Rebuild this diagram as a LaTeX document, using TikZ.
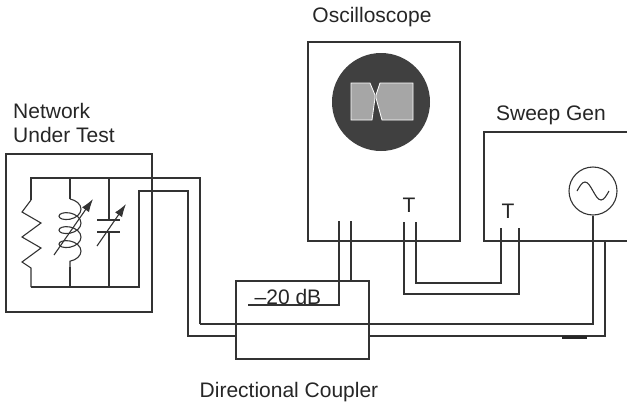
\documentclass[tikz,border=0pt]{standalone}
\usepackage{fontspec}
\setmainfont{Liberation Sans}
\usetikzlibrary{arrows.meta,decorations.pathmorphing}
\definecolor{wire}{HTML}{333333}
\definecolor{crt}{HTML}{404040}
\definecolor{trace}{HTML}{A6A6A6}
\begin{document}
\begin{tikzpicture}[x=1pt,y=-1pt,
  wirestyle/.style={draw=wire,line width=1.1pt},
  unit/.style={draw=wire,line width=1.1pt,fill=none},
  lbl/.style={font=\fontsize{21}{24}\selectfont,text=black!85,inner sep=0pt},
  tune/.style={draw=wire,line width=1.1pt,-{Latex[length=13pt,width=8.5pt]}}]
\useasboundingbox (0,0) rectangle (627,405);
\begin{scope}
\clip (0,0) rectangle (627,405);

% instrument housings
\draw[unit] (6,154) rectangle (152,312);
\draw[unit] (308,42) rectangle (460,241);
\draw[unit] (660,132) -- (484,132) -- (484,241) -- (660,241);
\draw[unit] (236,281) rectangle (369,359);

% CRT screen
\fill[crt] (381,102) circle (49);
\draw[white,line width=0.8pt,fill=trace]
  (351,83) -- (370,83) -- (375,95) -- (375,98) -- (372,120) -- (351,120) -- cycle;
\draw[white,line width=0.8pt,fill=trace]
  (413,83) -- (380,83) -- (376,95) -- (376,98) -- (382,120) -- (413,120) -- cycle;

% sweep source
\node[circle,draw=wire,line width=1.1pt,minimum size=48pt,inner sep=0pt] (src) at (593,191) {};
\draw[wirestyle] (577,191) sin (585,182) cos (593,191) sin (601,200) cos (609,191);

% tuned circuit inside the network
\coordinate (tl) at (31,178);
\coordinate (bl) at (31,287);
\draw[wirestyle] (200,324) -- (200,178) -- (tl) -- (31,200);
\draw[wirestyle] (31,200) -- (22,212) -- (41,223) -- (22,237) -- (41,248) -- (22,262) -- (31,268) -- (bl);
\draw[wirestyle] (bl) -- (139,287) -- (139,191) -- (188,191) -- (188,336) -- (236,336);
\draw[wirestyle] (70,178) -- (70,199);
\draw[wirestyle,decorate,decoration={coil,aspect=0.6,segment length=14pt,amplitude=11pt}] (70,199) -- (70,267);
\draw[wirestyle] (70,267) -- (70,287);
\draw[tune] (54,255) -- (93,199);
\draw[wirestyle] (109,178) -- (109,220);
\draw[wirestyle] (97,220) -- (120,220);
\draw[wirestyle] (97,232) -- (120,232);
\draw[wirestyle] (109,232) -- (109,287);
\draw[tune] (97,246) -- (126,204);

% coupler main line and return line
\draw[wirestyle] (200,324) -- (593,324) -- (src.south);
\draw[wirestyle] (369,336) -- (605,336) -- (605,241);
\draw[draw=black!85,line width=2.6pt] (562,337.5) -- (587,337.5);

% coupled port to the scope
\draw[wirestyle] (339,221) -- (339,305) -- (248,305);
\draw[wirestyle] (351,221) -- (351,281);

% trigger cable
\draw[wirestyle] (404,222) -- (404,294) -- (519,294) -- (519,228);
\draw[wirestyle] (416,222) -- (416,283) -- (501,283) -- (501,228);
\end{scope}

% labels
\node[lbl,anchor=base] (osc) at (372,22) {Oscilloscope};
\node[lbl,anchor=base west] (net1) at (13,118) {Network};
\node[lbl,anchor=base west] (net2) at (13,142) {Under Test};
\node[lbl,anchor=base] (swp) at (551,120) {Sweep Gen};
\node[lbl,anchor=base] (dc) at (289,397) {Directional Coupler};
\node[lbl,anchor=base] (t1) at (409,212) {T};
\node[lbl,anchor=base] (t2) at (508,218) {T};
\node[lbl,anchor=base] (att) at (288,304) {–20 dB};
\end{tikzpicture}
\end{document}
